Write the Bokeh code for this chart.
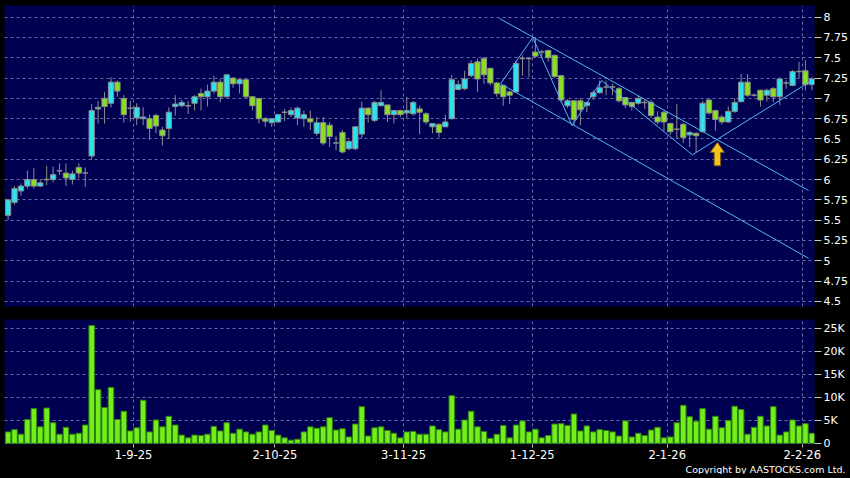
from bokeh.plotting import figure
from bokeh.layouts import column
from bokeh.models import (FixedTicker, Range1d, Title, CustomJSTickFormatter,
                          GlobalInlineStyleSheet)
from bokeh.embed import file_html
from bokeh.resources import INLINE

# ---------------- data (daily bars, index 0..125) ----------------
opens = [5.56, 5.72, 5.86, 5.92, 6.00, 5.92, 6.00, 6.00, 6.11, 6.08,
         6.00, 6.15, 6.08, 6.29, 6.87, 7.00, 6.94, 7.20, 7.00, 6.88,
         6.76, 6.75, 6.75, 6.79, 6.61, 6.63, 6.90, 6.91, 6.91, 6.94,
         7.06, 7.02, 7.09, 7.20, 7.02, 7.25, 7.18, 7.23, 7.02, 7.00,
         6.75, 6.70, 6.71, 6.83, 6.80, 6.76, 6.75, 6.75, 6.57, 6.70,
         6.67, 6.45, 6.58, 6.38, 6.38, 6.56, 6.88, 6.73, 6.91, 6.92,
         6.80, 6.85, 6.82, 6.81, 6.87, 6.81, 6.65, 6.68, 6.65, 6.75,
         7.11, 7.12, 7.28, 7.45, 7.49, 7.37, 7.19, 7.16, 7.08, 7.08,
         7.49, 7.49, 7.57, 7.57, 7.59, 7.53, 7.28, 6.91, 6.97, 6.97,
         6.91, 7.02, 7.07, 7.14, 7.14, 7.12, 7.01, 6.95, 6.94, 6.95,
         6.95, 6.77, 6.83, 6.69, 6.62, 6.68, 6.55, 6.57, 6.59, 6.98,
         6.85, 6.77, 6.71, 6.84, 6.96, 7.20, 7.04, 7.10, 7.04, 7.12,
         7.02, 7.19, 7.16, 7.33, 7.34, 7.17]
highs = [5.76, 5.92, 5.95, 6.11, 6.14, 6.00, 6.17, 6.16, 6.20, 6.20,
         6.11, 6.20, 6.15, 6.93, 6.97, 7.08, 7.26, 7.22, 7.04, 6.97,
         6.94, 6.89, 6.80, 6.81, 6.65, 6.89, 7.04, 6.98, 6.97, 7.04,
         7.12, 7.17, 7.28, 7.24, 7.30, 7.26, 7.24, 7.23, 7.02, 7.00,
         6.77, 6.75, 6.81, 6.87, 6.89, 6.90, 6.85, 6.85, 6.77, 6.77,
         6.71, 6.54, 6.61, 6.49, 6.65, 6.96, 6.89, 6.97, 7.10, 6.92,
         6.86, 6.86, 7.02, 6.97, 6.91, 6.83, 6.69, 6.69, 6.80, 7.29,
         7.22, 7.34, 7.47, 7.49, 7.51, 7.38, 7.20, 7.16, 7.10, 7.47,
         7.53, 7.51, 7.75, 7.60, 7.60, 7.54, 7.29, 6.99, 6.98, 7.00,
         6.96, 7.10, 7.22, 7.22, 7.18, 7.14, 7.02, 6.96, 7.03, 6.98,
         6.98, 6.84, 6.85, 6.70, 6.93, 6.70, 6.60, 6.58, 6.97, 7.00,
         6.86, 6.80, 6.90, 7.00, 7.30, 7.30, 7.06, 7.11, 7.12, 7.14,
         7.26, 7.22, 7.35, 7.45, 7.47, 7.26]
lows = [5.50, 5.69, 5.80, 5.89, 5.89, 5.91, 5.93, 5.97, 6.06, 5.92,
        5.94, 6.02, 5.91, 6.24, 6.69, 6.69, 6.89, 7.02, 6.70, 6.71,
        6.67, 6.67, 6.49, 6.57, 6.42, 6.50, 6.79, 6.89, 6.81, 6.85,
        6.85, 6.90, 7.06, 6.95, 7.01, 7.13, 7.06, 7.00, 6.85, 6.69,
        6.65, 6.65, 6.70, 6.72, 6.77, 6.67, 6.65, 6.61, 6.54, 6.42,
        6.40, 6.36, 6.32, 6.36, 6.36, 6.51, 6.70, 6.71, 6.90, 6.71,
        6.69, 6.77, 6.75, 6.79, 6.56, 6.68, 6.57, 6.52, 6.65, 6.74,
        7.10, 7.10, 7.26, 7.08, 7.18, 7.16, 7.02, 6.91, 6.93, 7.07,
        7.28, 7.26, 7.50, 7.50, 7.45, 7.25, 6.95, 6.88, 6.67, 6.67,
        6.83, 6.98, 7.06, 7.04, 7.04, 6.95, 6.88, 6.85, 6.92, 6.87,
        6.76, 6.68, 6.60, 6.55, 6.50, 6.45, 6.40, 6.33, 6.58, 6.80,
        6.60, 6.68, 6.70, 6.82, 6.95, 7.02, 7.02, 6.90, 6.96, 6.95,
        6.92, 7.12, 7.15, 7.25, 7.10, 7.10]
closes = [5.75, 5.89, 5.92, 6.00, 5.92, 5.96, 6.00, 6.06, 6.11, 6.02,
          6.07, 6.08, 6.08, 6.85, 6.89, 6.90, 7.20, 7.09, 6.80, 6.88,
          6.89, 6.77, 6.63, 6.66, 6.54, 6.83, 6.93, 6.95, 6.91, 7.02,
          7.02, 7.09, 7.20, 7.02, 7.29, 7.18, 7.23, 7.02, 6.91, 6.75,
          6.72, 6.75, 6.80, 6.83, 6.85, 6.88, 6.80, 6.71, 6.70, 6.45,
          6.53, 6.45, 6.34, 6.47, 6.65, 6.88, 6.80, 6.95, 6.95, 6.80,
          6.85, 6.80, 6.85, 6.95, 6.83, 6.71, 6.69, 6.58, 6.71, 7.23,
          7.17, 7.24, 7.43, 7.24, 7.29, 7.19, 7.06, 7.02, 7.04, 7.43,
          7.49, 7.49, 7.52, 7.57, 7.50, 7.27, 6.98, 6.97, 6.74, 6.86,
          6.95, 7.07, 7.13, 7.14, 7.14, 6.97, 6.92, 6.90, 7.00, 6.95,
          6.79, 6.71, 6.71, 6.59, 6.62, 6.52, 6.58, 6.54, 6.94, 6.82,
          6.74, 6.71, 6.84, 6.95, 7.20, 7.04, 7.04, 6.98, 7.10, 7.02,
          7.24, 7.19, 7.33, 7.33, 7.17, 7.24]
volume_k = [2.5, 3.0, 2.0, 5.2, 7.6, 3.6, 7.7, 4.5, 2.0, 3.5,
            2.0, 2.2, 4.0, 25.7, 11.7, 7.8, 12.2, 5.2, 7.0, 2.7,
            3.4, 9.4, 2.5, 5.1, 3.6, 5.9, 4.0, 1.8, 1.2, 1.8,
            1.7, 2.0, 3.7, 2.7, 4.5, 2.2, 3.1, 2.5, 2.0, 2.5,
            4.0, 2.8, 1.8, 1.2, 0.7, 0.9, 2.5, 3.6, 3.3, 3.6,
            5.6, 2.9, 3.2, 1.4, 4.2, 8.0, 1.6, 3.4, 3.6, 2.8,
            2.2, 1.2, 2.5, 2.6, 2.0, 2.0, 3.8, 3.0, 2.5, 10.4,
            3.1, 5.1, 7.0, 3.6, 2.6, 1.1, 2.0, 3.9, 1.2, 4.0,
            4.9, 2.5, 3.1, 1.2, 1.7, 4.2, 4.3, 3.9, 6.4, 2.7,
            3.8, 2.5, 3.0, 2.8, 2.5, 1.6, 4.9, 1.4, 2.2, 1.7,
            2.9, 3.5, 1.2, 1.4, 4.5, 8.3, 5.8, 4.8, 7.6, 3.1,
            5.9, 3.4, 5.0, 8.1, 7.4, 2.0, 3.5, 5.9, 3.8, 8.0,
            1.8, 2.5, 5.1, 3.8, 4.3, 2.2]

month_labels = ["1-9-25", "2-10-25", "3-11-25", "1-12-25", "2-1-26", "2-2-26"]
month_first_bar = [20, 42, 62, 82, 103, 124]
price_ticks = [4.5, 4.75, 5.0, 5.25, 5.5, 5.75, 6.0, 6.25, 6.5, 6.75, 7.0, 7.25, 7.5, 7.75, 8.0]
volume_ticks_k = [0, 5, 10, 15, 20, 25]

# drawn analysis lines (bar index, price)
zigzag_idx = [76.6, 81.6, 87.7, 92.3, 106.4, 125.0]
zigzag_price = [7.18, 7.75, 6.666, 7.22, 6.305, 7.22]
upper_channel_idx = [76.4, 124.5]
upper_channel_price = [7.984, 5.865]
lower_channel_idx = [76.6, 124.5]
lower_channel_price = [7.18, 5.03]
arrow_idx = 110.3
arrow_tip_price = 6.46
arrow_head_price = 6.335
arrow_base_price = 6.17

# ---------------- styling ----------------
NAVY = "#000050"
GRID = "#6a6aa6"
UP = "#2ae2f0"
DOWN = "#88e021"
EDGE = "#8c8c8c"
VOLC = "#72ee1a"
FONT = "DejaVu Sans"
TICKC = "#c8c8c8"

n = len(opens)
idx = list(range(n))
grid_pos = [b - 0.5 for b in month_first_bar]
x_range = Range1d(-0.56, 125.41)

css = GlobalInlineStyleSheet(css="html, body { background: #000000; }")

p = figure(frame_width=810, frame_height=301, x_range=x_range, y_range=Range1d(4.437, 8.144),
           output_backend="svg", toolbar_location=None, y_axis_location="right",
           x_axis_location=None, background_fill_color=NAVY, border_fill_color="black",
           outline_line_color=None, min_border_left=4, min_border_right=34,
           min_border_top=5, min_border_bottom=13)

p.ygrid.ticker = FixedTicker(ticks=price_ticks)
p.xgrid.ticker = FixedTicker(ticks=grid_pos)
for g in (p.xgrid, p.ygrid):
    g.grid_line_color = GRID
    g.grid_line_dash = "3 3"
    g.grid_line_width = 1

ya = p.yaxis[0]
ya.ticker = FixedTicker(ticks=price_ticks)
ya.formatter = CustomJSTickFormatter(code="return String(tick);")
ya.axis_line_color = None
ya.major_tick_line_color = TICKC
ya.major_tick_out = 7
ya.major_tick_in = 0
ya.minor_tick_line_color = None
ya.major_label_standoff = 2
ya.major_label_text_color = "white"
ya.major_label_text_font = FONT
ya.major_label_text_font_size = "11px"

# candles
body_top = [max(o, c) for o, c in zip(opens, closes)]
body_bot = [min(o, c) for o, c in zip(opens, closes)]
fills = [UP if c > o else DOWN for o, c in zip(opens, closes)]
p.segment(x0=idx, y0=highs, x1=idx, y1=lows, line_color=EDGE, line_width=1)
bi = [i for i in idx if closes[i] != opens[i]]
p.vbar(x=bi, width=0.82, top=[body_top[i] for i in bi], bottom=[body_bot[i] for i in bi],
       fill_color=[fills[i] for i in bi], line_color=EDGE, line_width=1)
di = [i for i in idx if closes[i] == opens[i]]
p.segment(x0=[i - 0.42 for i in di], y0=[opens[i] for i in di],
          x1=[i + 0.42 for i in di], y1=[opens[i] for i in di], line_color=EDGE, line_width=1.5)

# analysis lines
LINEC = "#52b8ec"
p.line(zigzag_idx, zigzag_price, line_color=LINEC, line_width=1)
p.line(upper_channel_idx, upper_channel_price, line_color=LINEC, line_width=1)
p.line(lower_channel_idx, lower_channel_price, line_color=LINEC, line_width=1)

# arrow
hw, sw = 1.1, 0.5
p.patch([arrow_idx, arrow_idx + hw, arrow_idx + sw, arrow_idx + sw, arrow_idx - sw, arrow_idx - sw, arrow_idx - hw],
        [arrow_tip_price, arrow_head_price, arrow_head_price, arrow_base_price, arrow_base_price,
         arrow_head_price, arrow_head_price],
        fill_color="#f7c21c", line_color="#7a5a10", line_width=1)

# ---------------- volume ----------------
v = figure(frame_width=810, frame_height=125, x_range=x_range, y_range=Range1d(-0.25, 27.0),
           output_backend="svg", toolbar_location=None, y_axis_location="right",
           background_fill_color=NAVY, border_fill_color="black", outline_line_color=None,
           min_border_left=4, min_border_right=34, min_border_top=0, min_border_bottom=0)
v.vbar(x=idx, width=0.86, top=volume_k, bottom=0, fill_color=VOLC, line_color="#2f7f12", line_width=1)

v.ygrid.ticker = FixedTicker(ticks=volume_ticks_k)
v.xgrid.ticker = FixedTicker(ticks=grid_pos)
for g in (v.xgrid, v.ygrid):
    g.grid_line_color = GRID
    g.grid_line_dash = "3 3"
    g.grid_line_width = 1

vy = v.yaxis[0]
vy.ticker = FixedTicker(ticks=volume_ticks_k)
vy.formatter = CustomJSTickFormatter(code="return tick == 0 ? '0' : tick + 'K';")
vx = v.xaxis[0]
vx.ticker = FixedTicker(ticks=grid_pos)
vx.major_label_overrides = {g: lab for g, lab in zip(grid_pos, month_labels)}
for ax in (vy, vx):
    ax.axis_line_color = None
    ax.major_tick_line_color = TICKC
    ax.major_tick_in = 0
    ax.minor_tick_line_color = None
    ax.major_label_text_color = "white"
    ax.major_label_text_font = FONT
vy.major_label_text_font_size = "11px"
vx.major_label_text_font_size = "11.5px"
vy.major_tick_out = 7
vy.major_label_standoff = 2
vx.major_tick_out = 3
vx.major_label_standoff = 2

v.add_layout(Title(text="Copyright by AASTOCKS.com Ltd.", align="right", text_color="white",
                   text_font=FONT, text_font_size="9.5px", text_font_style="normal",
                   offset=-31, standoff=0), "below")

layout = column(p, v, spacing=0, stylesheets=[css], styles={"background": "#000000"})

open("out.html", "w").write(file_html(layout, INLINE))
